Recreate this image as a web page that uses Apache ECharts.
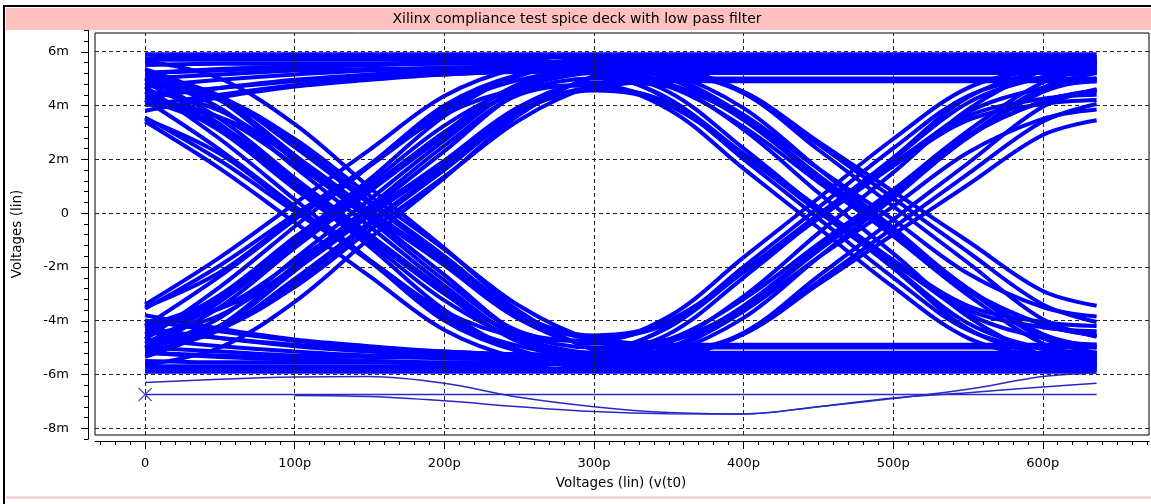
<!DOCTYPE html>
<html><head><meta charset="utf-8">
<script src="https://cdn.jsdelivr.net/npm/echarts@6/dist/echarts.min.js"></script>
<style>html,body{margin:0;padding:0;background:#fff;}#c{width:1151px;height:504px;}</style>
</head><body><div id="c"></div>
<script>
const chartTitle = 'Xilinx compliance test spice deck with low pass filter';
const xAxisTitle = 'Voltages (lin) (v(t0)';
const yAxisTitle = 'Voltages (lin)';
const xMajorTicks = [0, 100, 200, 300, 400, 500, 600];
const xTickLabels = ['0', '100p', '200p', '300p', '400p', '500p', '600p'];
const yMajorTicks = [-8, -6, -4, -2, 0, 2, 4, 6];
const yTickLabels = ['-8m', '-6m', '-4m', '-2m', '0', '2m', '4m', '6m'];

// sample times of every trace (ps)
const timesPs = [0, 50, 100, 150, 200, 250, 300, 350, 400, 450, 500, 550, 600, 636];

// eye-diagram traces, values in mV at timesPs
const fallStayLow = [
  [5.65,5.0,3.3,0.95,-1.3,-3.65,-5.1,-5.6,-5.6,-5.6,-5.6,-5.6,-5.6,-5.6],
  [5.0,4.2,2.15,-0.1,-2.3,-4.5,-5.5,-5.8,-5.8,-5.8,-5.8,-5.8,-5.8,-5.8],
  [4.3,3.25,1.2,-0.8,-2.85,-4.6,-5.25,-5.4,-5.4,-5.4,-5.4,-5.4,-5.4,-5.4],
  [5.0,3.5,1.3,-0.8,-3.0,-4.5,-5.0,-5.0,-5.0,-5.0,-5.0,-5.0,-5.0,-5.0],
  [3.4,1.65,-0.35,-2.35,-4.35,-5.4,-5.7,-5.7,-5.7,-5.7,-5.7,-5.7,-5.7,-5.7],
  [4.85,4.3,2.75,0.65,-1.35,-3.45,-4.75,-5.2,-5.2,-5.2,-5.2,-5.2,-5.2,-5.2],
  [5.05,3.9,1.7,-0.5,-2.7,-4.65,-5.35,-5.5,-5.5,-5.5,-5.5,-5.5,-5.5,-5.5],
  [3.5,2.2,0.15,-1.75,-3.8,-5.1,-5.6,-5.6,-5.6,-5.6,-5.6,-5.6,-5.6,-5.6],
  [4.2,2.35,0.25,-1.8,-3.9,-4.95,-5.3,-5.3,-5.3,-5.3,-5.3,-5.3,-5.3,-5.3],
  [4.25,3.55,1.8,-0.05,-1.9,-3.8,-4.65,-4.9,-4.9,-4.9,-4.9,-4.9,-4.9,-4.9]
];
const fallRise = [
  [4.7,2.75,0.5,-1.75,-4.0,-5.15,-5.5,-5.3,-4.45,-2.35,-0.25,1.85,3.95,4.6],
  [4.5,3.05,0.9,-1.1,-3.25,-4.7,-5.2,-4.8,-3.55,-1.3,0.85,3.05,4.85,5.4],
  [4.2,3.15,1.05,-0.95,-3.0,-4.8,-5.4,-5.0,-3.45,-1.3,0.7,2.85,4.15,4.55],
  [5.15,4.35,2.45,0.35,-1.7,-3.8,-4.55,-4.05,-2.15,-0.05,2.0,4.1,5.05,5.3],
  [4.05,3.55,2.1,0.1,-1.8,-3.75,-4.65,-4.1,-2.15,-0.2,1.75,3.45,4.05,4.2],
  [5.35,4.2,1.95,-0.25,-2.5,-4.4,-4.75,-3.85,-1.65,0.55,2.75,4.65,5.35,5.5],
  [4.75,4.2,2.6,0.45,-1.6,-3.75,-5.05,-5.3,-4.5,-2.55,-0.55,1.45,3.4,4.05],
  [3.55,1.95,0.05,-1.75,-3.65,-4.6,-4.75,-4.0,-2.2,-0.2,1.75,3.75,4.65,4.9],
  [4.85,3.3,0.95,-1.25,-3.6,-5.15,-5.65,-5.1,-3.65,-1.65,0.25,2.25,3.5,3.85],
  [4.55,3.8,2.0,0.0,-1.95,-3.95,-4.85,-4.7,-3.5,-1.4,0.65,2.8,4.5,5.0]
];
const highFall = [
  [5.7,5.7,5.7,5.7,5.7,5.7,5.35,4.2,2.0,-0.2,-2.4,-4.35,-5.05,-5.2],
  [5.0,5.15,5.3,5.35,5.4,5.45,5.3,4.5,2.4,0.15,-2.05,-4.3,-5.3,-5.6],
  [4.4,4.65,4.9,5.05,5.15,5.25,5.2,4.7,3.2,1.15,-0.85,-2.9,-4.15,-4.55],
  [5.5,5.55,5.55,5.55,5.6,5.6,5.6,5.2,3.9,1.65,-0.55,-2.85,-4.65,-5.2],
  [4.0,4.4,4.75,5.0,5.2,5.3,5.35,5.2,4.5,2.65,0.8,-1.05,-2.9,-3.45],
  [5.2,5.3,5.4,5.5,5.55,5.55,5.25,4.25,2.2,0.2,-1.85,-3.6,-4.25,-4.4],
  [4.7,4.95,5.15,5.3,5.35,5.45,5.4,4.8,3.1,0.75,-1.5,-3.85,-5.3,-5.7]
];
const stayHigh = [
  [5.9,5.9,5.9,5.9,5.9,5.9,5.9,5.9,5.9,5.9,5.9,5.9,5.9,5.9],
  [5.75,5.8,5.8,5.8,5.8,5.8,5.8,5.8,5.8,5.8,5.8,5.8,5.8,5.8],
  [4.3,4.65,4.95,5.15,5.3,5.4,5.45,5.48,5.5,5.5,5.5,5.5,5.45,5.4],
  [5.2,5.35,5.45,5.5,5.6,5.6,5.65,5.65,5.65,5.65,5.65,5.65,5.6,5.6],
  [3.8,4.3,4.7,4.95,5.15,5.25,5.35,5.35,5.4,5.4,5.4,5.35,5.3,5.25]
];
const riseStayHigh = [
  [-5.65,-5.0,-3.3,-0.95,1.3,3.65,5.1,5.6,5.6,5.6,5.6,5.6,5.6,5.6],
  [-5.0,-4.2,-2.15,0.1,2.3,4.5,5.5,5.8,5.8,5.8,5.8,5.8,5.8,5.8],
  [-4.3,-3.25,-1.2,0.8,2.85,4.6,5.25,5.4,5.4,5.4,5.4,5.4,5.4,5.4],
  [-5.0,-3.5,-1.3,0.8,3.0,4.5,5.0,5.0,5.0,5.0,5.0,5.0,5.0,5.0],
  [-3.4,-1.65,0.35,2.35,4.35,5.4,5.7,5.7,5.7,5.7,5.7,5.7,5.7,5.7],
  [-4.85,-4.3,-2.75,-0.65,1.35,3.45,4.75,5.2,5.2,5.2,5.2,5.2,5.2,5.2],
  [-5.05,-3.9,-1.7,0.5,2.7,4.65,5.35,5.5,5.5,5.5,5.5,5.5,5.5,5.5],
  [-3.5,-2.2,-0.15,1.75,3.8,5.1,5.6,5.6,5.6,5.6,5.6,5.6,5.6,5.6],
  [-4.2,-2.35,-0.25,1.8,3.9,4.95,5.3,5.3,5.3,5.3,5.3,5.3,5.3,5.3],
  [-4.25,-3.55,-1.8,0.05,1.9,3.8,4.65,4.9,4.9,4.9,4.9,4.9,4.9,4.9]
];
const riseFall = [
  [-4.7,-2.75,-0.5,1.75,4.0,5.15,5.5,5.3,4.45,2.35,0.25,-1.85,-3.95,-4.6],
  [-4.5,-3.05,-0.9,1.1,3.25,4.7,5.2,4.8,3.55,1.3,-0.85,-3.05,-4.85,-5.4],
  [-4.2,-3.15,-1.05,0.95,3.0,4.8,5.4,5.0,3.45,1.3,-0.7,-2.85,-4.15,-4.55],
  [-5.15,-4.35,-2.45,-0.35,1.7,3.8,4.55,4.05,2.15,0.05,-2.0,-4.1,-5.05,-5.3],
  [-4.05,-3.55,-2.1,-0.1,1.8,3.75,4.65,4.1,2.15,0.2,-1.75,-3.45,-4.05,-4.2],
  [-5.35,-4.2,-1.95,0.25,2.5,4.4,4.75,3.85,1.65,-0.55,-2.75,-4.65,-5.35,-5.5],
  [-4.75,-4.2,-2.6,-0.45,1.6,3.75,5.05,5.3,4.5,2.55,0.55,-1.45,-3.4,-4.05],
  [-3.55,-1.95,-0.05,1.75,3.65,4.6,4.75,4.0,2.2,0.2,-1.75,-3.75,-4.65,-4.9],
  [-4.85,-3.3,-0.95,1.25,3.6,5.15,5.65,5.1,3.65,1.65,-0.25,-2.25,-3.5,-3.85],
  [-4.55,-3.8,-2.0,0.0,1.95,3.95,4.85,4.7,3.5,1.4,-0.65,-2.8,-4.5,-5.0]
];
const lowRise = [
  [-5.7,-5.7,-5.7,-5.7,-5.7,-5.7,-5.35,-4.2,-2.0,0.2,2.4,4.35,5.05,5.2],
  [-5.0,-5.15,-5.3,-5.35,-5.4,-5.45,-5.3,-4.5,-2.4,-0.15,2.05,4.3,5.3,5.6],
  [-4.4,-4.65,-4.9,-5.05,-5.15,-5.25,-5.2,-4.7,-3.2,-1.15,0.85,2.9,4.15,4.55],
  [-5.5,-5.55,-5.55,-5.55,-5.6,-5.6,-5.6,-5.2,-3.9,-1.65,0.55,2.85,4.65,5.2],
  [-4.0,-4.4,-4.75,-5.0,-5.2,-5.3,-5.35,-5.2,-4.5,-2.65,-0.8,1.05,2.9,3.45],
  [-5.2,-5.3,-5.4,-5.5,-5.55,-5.55,-5.25,-4.25,-2.2,-0.2,1.85,3.6,4.25,4.4],
  [-4.7,-4.95,-5.15,-5.3,-5.35,-5.45,-5.4,-4.8,-3.1,-0.75,1.5,3.85,5.3,5.7]
];
const stayLow = [
  [-5.9,-5.9,-5.9,-5.9,-5.9,-5.9,-5.9,-5.9,-5.9,-5.9,-5.9,-5.9,-5.9,-5.9],
  [-5.75,-5.8,-5.8,-5.8,-5.8,-5.8,-5.8,-5.8,-5.8,-5.8,-5.8,-5.8,-5.8,-5.8],
  [-4.3,-4.65,-4.95,-5.15,-5.3,-5.4,-5.45,-5.48,-5.5,-5.5,-5.5,-5.5,-5.45,-5.4],
  [-5.2,-5.35,-5.45,-5.5,-5.6,-5.6,-5.65,-5.65,-5.65,-5.65,-5.65,-5.65,-5.6,-5.6],
  [-3.8,-4.3,-4.7,-4.95,-5.15,-5.25,-5.35,-5.35,-5.4,-5.4,-5.4,-5.35,-5.3,-5.25]
];
// start-up traces below the eye
const startupFlat = [-6.75,-6.75,-6.75,-6.75,-6.75,-6.75,-6.75,-6.75,-6.75,-6.75,-6.75,-6.75,-6.75,-6.75];
const startupDipA = [-6.3,-6.18,-6.1,-6.08,-6.33,-6.85,-7.2,-7.42,-7.47,-7.2,-6.9,-6.55,-6.08,-5.95];
const startupDipB = [null,null,-6.78,-6.82,-6.98,-7.2,-7.38,-7.46,-7.47,-7.2,-6.88,-6.68,-6.47,-6.33];
const startMarker = [0, -6.75];

const FONT = 'DejaVu Sans';
const xMin = -33.5, xMax = 671;
const yMin = -8.253, yMax = 6.691;

const xMinorTicks = [];
for (let t = -30; t <= 670; t += 10) xMinorTicks.push(t);
const yMinorTicks = [];
for (let k = -21; k <= 17; k++) yMinorTicks.push(Math.round(k * 4) / 10);

function toPairs(vals) {
  const out = [];
  timesPs.forEach((t, i) => { if (vals[i] !== null) out.push([t, vals[i]]); });
  return out;
}

const series = [];
series.push({
  type: 'line', xAxisIndex: 0, yAxisIndex: 0, data: [], z: 1, silent: true,
  markLine: {
    silent: true, symbol: ['none', 'none'], label: { show: false }, animation: false,
    lineStyle: { type: [4, 3], color: '#222', width: 1 },
    emphasis: { disabled: true },
    data: xMajorTicks.map(v => ({ xAxis: v })).concat(yMajorTicks.map(v => ({ yAxis: v })))
  }
});
[fallStayLow, fallRise, highFall, stayHigh, riseStayHigh, riseFall, lowRise, stayLow].forEach(group => {
  group.forEach(vals => {
    series.push({
      type: 'line', xAxisIndex: 0, yAxisIndex: 0, data: toPairs(vals), symbol: 'none',
      smooth: 0.35, z: 3, silent: true,
      lineStyle: { color: '#0000FF', width: 4 }
    });
  });
});
[startupFlat, startupDipA, startupDipB].forEach(vals => {
  series.push({
    type: 'line', xAxisIndex: 0, yAxisIndex: 0, data: toPairs(vals), symbol: 'none',
    smooth: 0.35, z: 4, silent: true,
    lineStyle: { color: '#2828C8', width: 1.5 }
  });
});
series.push({
  type: 'scatter', xAxisIndex: 0, yAxisIndex: 0, data: [startMarker], z: 5, silent: true,
  symbol: 'path://M0,0L10,10M10,0L0,10', symbolSize: 13,
  itemStyle: { color: 'transparent', borderColor: '#2828C8', borderWidth: 1.3 }
});

const chart = echarts.init(document.getElementById('c'), null, { renderer: 'canvas' });
chart.setOption({
  animation: false,
  backgroundColor: '#fff',
  grid: [
    { left: 95, top: 33, width: 1054, height: 402, show: true, borderColor: '#000', borderWidth: 1, containLabel: false },
    { left: 88, top: 30.3, width: 1, height: 408.9, containLabel: false }
  ],
  xAxis: [
    {
      gridIndex: 0, type: 'value', min: xMin, max: xMax, position: 'bottom', offset: 6,
      axisLine: { show: true, onZero: false, lineStyle: { color: '#000', width: 1 } },
      axisTick: { show: true, customValues: xMajorTicks, length: 8, lineStyle: { color: '#000' } },
      axisLabel: {
        customValues: xMajorTicks, margin: 16, color: '#000', fontFamily: FONT, fontSize: 13,
        formatter: v => xTickLabels[xMajorTicks.indexOf(v)] ?? ''
      },
      splitLine: { show: false }
    },
    {
      gridIndex: 0, type: 'value', min: xMin, max: xMax, position: 'bottom', offset: 6,
      axisLine: { show: false, onZero: false },
      axisTick: { show: true, customValues: xMinorTicks, length: 4, lineStyle: { color: '#000' } },
      axisLabel: { show: false }, splitLine: { show: false }
    },
    { gridIndex: 1, type: 'value', show: false, min: 0, max: 1 }
  ],
  yAxis: [
    { gridIndex: 0, type: 'value', min: yMin, max: yMax, show: false, splitLine: { show: false } },
    {
      gridIndex: 1, type: 'value', min: -8.4, max: 6.8, position: 'left',
      axisLine: { show: true, onZero: false, lineStyle: { color: '#000', width: 1 } },
      axisTick: { show: true, customValues: yMajorTicks, length: 7, lineStyle: { color: '#000' } },
      axisLabel: {
        customValues: yMajorTicks, margin: 19, color: '#000', fontFamily: FONT, fontSize: 13,
        padding: [6, 0, 0, 0],
        formatter: v => yTickLabels[yMajorTicks.indexOf(v)] ?? ''
      },
      splitLine: { show: false }
    },
    {
      gridIndex: 1, type: 'value', min: -8.4, max: 6.8, position: 'left',
      axisLine: { show: false, onZero: false },
      axisTick: { show: true, customValues: yMinorTicks, length: 4, lineStyle: { color: '#000' } },
      axisLabel: { show: false }, splitLine: { show: false }
    }
  ],
  graphic: [
    { type: 'rect', silent: true, z: 0, shape: { x: 6, y: 8, width: 1145, height: 22 }, style: { fill: '#FFC0C0' } },
    { type: 'line', silent: true, shape: { x1: 4, y1: 6, x2: 1151, y2: 6 }, style: { stroke: '#000', lineWidth: 2 } },
    { type: 'line', silent: true, shape: { x1: 4, y1: 5, x2: 4, y2: 504 }, style: { stroke: '#000', lineWidth: 2 } },
    { type: 'line', silent: true, shape: { x1: 6, y1: 497.5, x2: 1151, y2: 497.5 }, style: { stroke: '#F3C4C4', lineWidth: 2 } },
    { type: 'text', silent: true, z: 10, style: { text: chartTitle, x: 577, y: 19, align: 'center', verticalAlign: 'middle', textAlign: 'center', textVerticalAlign: 'middle', fontFamily: FONT, fontSize: 14, fill: '#000' } },
    { type: 'text', silent: true, z: 10, style: { text: xAxisTitle, x: 621, y: 483, align: 'center', verticalAlign: 'middle', textAlign: 'center', textVerticalAlign: 'middle', fontFamily: FONT, fontSize: 13.5, fill: '#000' } },
    { type: 'text', silent: true, z: 10, x: 17, y: 234, rotation: Math.PI / 2, style: { text: yAxisTitle, x: 0, y: 0, align: 'center', verticalAlign: 'middle', textAlign: 'center', textVerticalAlign: 'middle', fontFamily: FONT, fontSize: 13.5, fill: '#000' } }
  ],
  series: series
});
</script>
</body></html>
